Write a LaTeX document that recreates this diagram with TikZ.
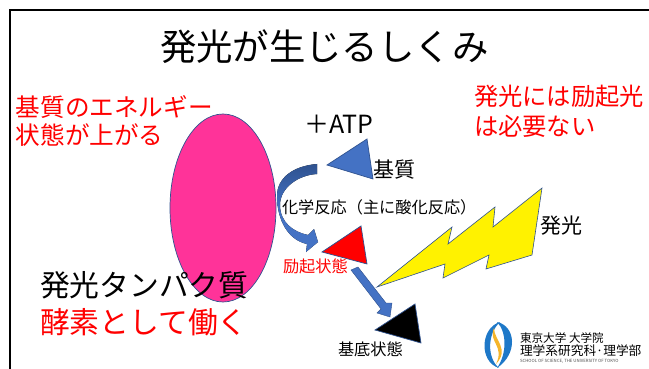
\documentclass[tikz,border=0pt]{standalone}
\usepackage{fontspec}
\setmainfont{Noto Sans CJK JP}
\setsansfont{Noto Sans CJK JP}
\usetikzlibrary{shapes.geometric}
\definecolor{edgeblue}{HTML}{2F528F}
\definecolor{fillblue}{HTML}{4472C4}
\definecolor{hotpink}{HTML}{FF3399}
\definecolor{logoblue}{HTML}{1E78C8}
\definecolor{logoyellow}{HTML}{F5B52A}
\tikzset{
  tri/.style={draw=edgeblue,line width=0.7pt,line join=miter},
  lab/.style={inner sep=0pt,outer sep=0pt,anchor=west,text=#1},
  lab/.default=black,
  fs/.style={font=\fontsize{#1}{#1}\selectfont}
}
\begin{document}
\begin{tikzpicture}[x=1pt,y=-1pt]
\useasboundingbox (0,0) rectangle (649,369);
\fill[white] (0,0) rectangle (649,369);
\draw[line width=2pt,black] (10,369) -- (10,10) -- (649,10);
% ellipse
\node[draw=edgeblue,fill=hotpink,line width=0.7pt,shape=ellipse,minimum width=106pt,minimum height=188pt,inner sep=0pt] (cell) at (223,208) {};
% triangles
\draw[tri,fill=fillblue] (327,165) -- (367,139) -- (373,179) -- cycle;
\draw[tri,fill=red] (322,252) -- (361,226) -- (367,264) -- cycle;
\draw[tri,fill=black] (375,330) -- (415,304) -- (421,343) -- cycle;
% bolt
\draw[tri,fill=yellow,line width=0.6pt] (377,287) -- (452,227) -- (448,244) -- (495,207) -- (493,227) -- (542,188) -- (532,255) -- (486,269) -- (489,255) -- (443,278) -- (445,264) -- cycle;
% curved arrow
\fill[top color=edgeblue,bottom color=fillblue,middle color=fillblue]
 (317,164) .. controls (293,166) and (277,178) .. (277,196)
 .. controls (277,220) and (288,240) .. (307,244) -- (306,252) -- (318,242) -- (314,229) -- (308,235)
 .. controls (293,232) and (280,222) .. (280,205)
 .. controls (280,188) and (298,175) .. (317,174) -- cycle;
% straight arrow
\draw[fill=fillblue,draw=edgeblue,line width=0.4pt] (351,270) -- (358,267) -- (386,303) -- (392,303) -- (390,317) -- (377,313) -- (381,309) -- cycle;
% texts
\node[lab,fs=36.4] (title) at (160,47) {発光が生じるしくみ};
\node[lab=red,fs=24.6] (t1) at (16,107) {基質のエネルギー};
\node[lab=red,fs=24.6] (t2) at (16,135) {状態が上がる};
\node[lab=red,fs=24.3] (t3) at (474,96) {発光には励起光};
\node[lab=red,fs=24.3] (t4) at (474,126) {は必要ない};
\node[lab,fs=25] (atp) at (304,124) {＋ATP};
\node[lab,fs=21] (sub) at (373,170) {基質};
\node[lab,fs=16.2] (rxn) at (282,207) {化学反応（主に酸化反応）};
\node[lab=red,fs=16.2] (ex) at (283,266) {励起状態};
\node[lab,fs=16.2] (gr) at (338,349) {基底状態};
\node[lab,fs=21] (lum) at (540,226) {発光};
\node[lab,fs=29.8] (prot) at (40,285) {発光タンパク質};
\node[lab=red,fs=29.8] (enz) at (40,322) {酵素として働く};
% logo
\fill[logoblue] (500,322) .. controls (480,328) and (479,362) .. (499,368) .. controls (487,358) and (487,334) .. (500,322) -- cycle;
\fill[logoblue] (497,322) .. controls (516,326) and (518,354) .. (497,368) .. controls (507,354) and (507,332) .. (497,322) -- cycle;
\fill[logoyellow] (494,328) .. controls (488,342) and (505,346) .. (496,364) .. controls (510,349) and (494,340) .. (494,328) -- cycle;
\node[lab,fs=11.6] (l1) at (520,338) {東京大学 大学院};
\node[lab,fs=12.7] (l2) at (520,351) {理学系研究科·理学部};
\node[lab,fs=4.3,text=black!70] (l3) at (520,361) {SCHOOL OF SCIENCE, THE UNIVERSITY OF TOKYO};
\end{tikzpicture}
\end{document}
